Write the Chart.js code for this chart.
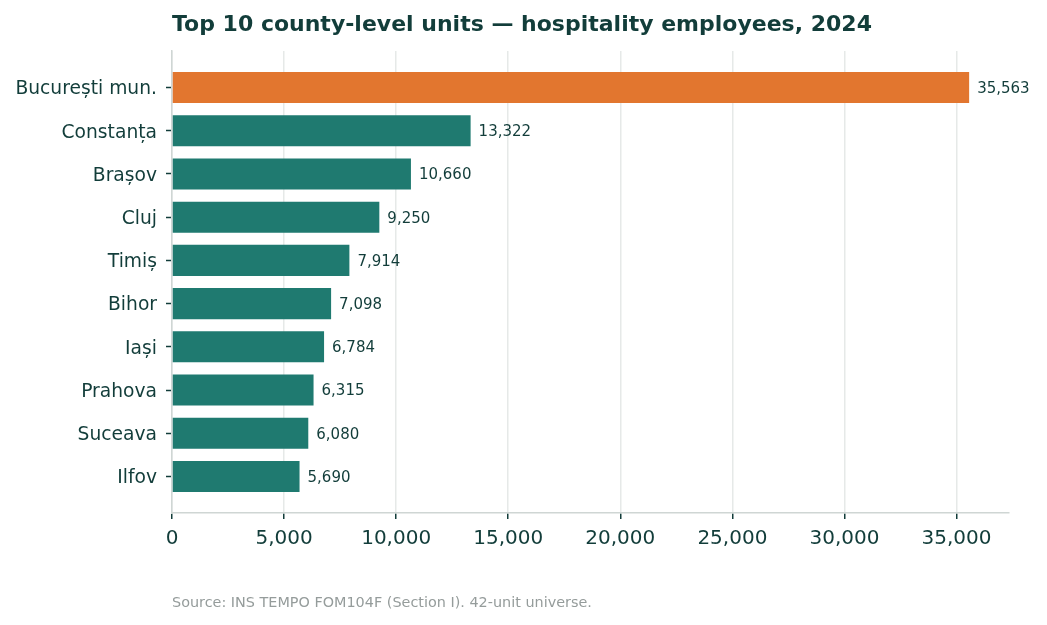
<!DOCTYPE html>
<html>
<head>
<meta charset="utf-8">
<script src="https://cdn.jsdelivr.net/npm/chart.js@4.4.1/dist/chart.umd.min.js"></script>
<style>
  html, body { margin: 0; padding: 0; background: #ffffff; }
  #wrap { width: 1047px; height: 625px; position: relative; }
</style>
</head>
<body>
<div id="wrap"><canvas id="c" width="1047" height="625"></canvas></div>
<script>
const titleText = "Top 10 county-level units \u2014 hospitality employees, 2024";
const sourceText = "Source: INS TEMPO FOM104F (Section I). 42-unit universe.";
const counties = ["Bucure\u0219ti mun.", "Constan\u021ba", "Bra\u0219ov", "Cluj", "Timi\u0219", "Bihor", "Ia\u0219i", "Prahova", "Suceava", "Ilfov"];
const employees = [35563, 13322, 10660, 9250, 7914, 7098, 6784, 6315, 6080, 5690];
const xTickValues = [0, 5000, 10000, 15000, 20000, 25000, 30000, 35000];

const TEAL = "#1f7a70";
const ORANGE = "#e2762f";
const DARK = "#123d3a";
const FONT = "'DejaVu Sans', sans-serif";

const barColors = employees.map((v, i) => i === 0 ? ORANGE : TEAL);
const points = employees.map((v, i) => ({ x: v, y: i }));
const xMax = Math.max(...employees) * 1.05;

const textPlugin = {
  id: 'textPlugin',
  afterDraw(chart) {
    const ctx = chart.ctx;
    const area = chart.chartArea;
    ctx.save();
    ctx.fillStyle = DARK;
    ctx.font = "bold 22px " + FONT;
    ctx.textAlign = 'left';
    ctx.textBaseline = 'middle';
    ctx.fillText(titleText, area.left, 25);
    ctx.fillStyle = "#959c9b";
    ctx.font = "14.4px " + FONT;
    ctx.fillText(sourceText, area.left, 603);
    // value labels
    const meta = chart.getDatasetMeta(0);
    ctx.fillStyle = DARK;
    ctx.font = "15px " + FONT;
    meta.data.forEach((bar, i) => {
      ctx.fillText(employees[i].toLocaleString('en-US'), bar.x + 8, bar.y + 1.5);
    });
    ctx.restore();
  }
};

new Chart(document.getElementById('c'), {
  type: 'bar',
  data: {
    datasets: [{
      data: points,
      backgroundColor: barColors,
      borderWidth: 0,
      barPercentage: 0.72,
      categoryPercentage: 1.0
    }]
  },
  options: {
    indexAxis: 'y',
    responsive: false,
    animation: false,
    layout: { padding: { top: 51, right: 38, left: 0, bottom: 0 } },
    plugins: {
      legend: { display: false },
      tooltip: { enabled: false }
    },
    scales: {
      x: {
        type: 'linear',
        position: 'bottom',
        min: 0,
        max: xMax,
        afterBuildTicks(scale) { scale.ticks = xTickValues.map(v => ({ value: v })); },
        afterFit(scale) { scale.height = 112; },
        ticks: {
          color: DARK,
          font: { family: FONT, size: 20 },
          padding: 8,
          maxRotation: 0,
          callback: (v) => Number(v).toLocaleString('en-US')
        },
        grid: {
          color: "#e6e9e8",
          lineWidth: 1.5,
          drawTicks: true,
          tickLength: 6,
          tickColor: DARK,
          tickWidth: 1.5
        },
        border: { display: true, color: "#cfd6d4", width: 1.5 }
      },
      y: {
        type: 'linear',
        position: 'left',
        reverse: true,
        offset: false,
        min: -0.846,
        max: 9.846,
        afterBuildTicks(scale) { scale.ticks = counties.map((c, i) => ({ value: i })); },
        afterFit(scale) { scale.width = 172; },
        ticks: {
          color: DARK,
          font: { family: FONT, size: 18.7 },
          padding: 9,
          labelOffset: 2,
          callback: (v) => counties[Math.round(v)] || ''
        },
        grid: {
          offset: false,
          drawOnChartArea: false,
          drawTicks: true,
          tickLength: 6,
          tickColor: DARK,
          tickWidth: 1.5
        },
        border: { display: true, color: "#cfd6d4", width: 1.5 }
      }
    }
  },
  plugins: [textPlugin]
});
</script>
</body>
</html>
